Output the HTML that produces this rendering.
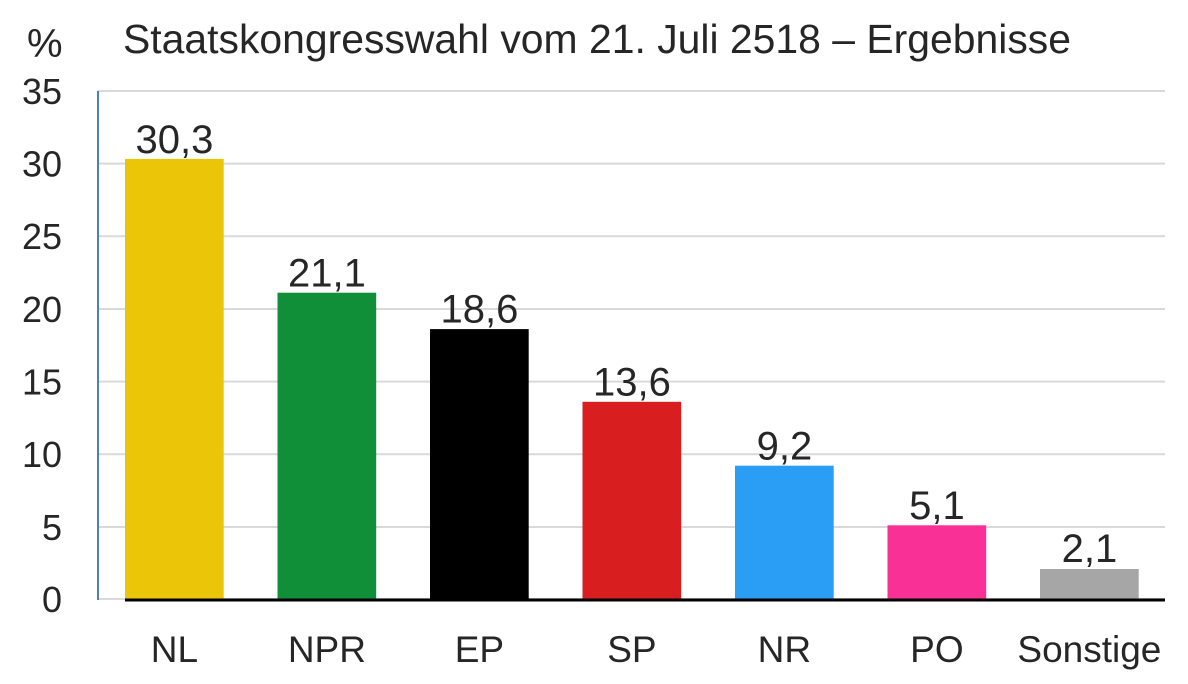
<!DOCTYPE html>
<html><head><meta charset="utf-8"><style>
html,body{margin:0;padding:0;background:#fff;}
svg{display:block;}
text{font-family:"Liberation Sans",Arial,sans-serif;fill:#262626;}
</style></head><body>
<svg width="1188" height="684" viewBox="0 0 1188 684" xmlns="http://www.w3.org/2000/svg">
<rect width="1188" height="684" fill="#fff"/>
<!-- gridlines -->
<g stroke="#d9d9d9" stroke-width="2">
<line x1="98" y1="91" x2="1165" y2="91"/>
<line x1="98" y1="163.6" x2="1165" y2="163.6"/>
<line x1="98" y1="236.3" x2="1165" y2="236.3"/>
<line x1="98" y1="309" x2="1165" y2="309"/>
<line x1="98" y1="381.6" x2="1165" y2="381.6"/>
<line x1="98" y1="454.3" x2="1165" y2="454.3"/>
<line x1="98" y1="527" x2="1165" y2="527"/>
<line x1="98" y1="599" x2="1165" y2="599"/>
</g>
<!-- y axis -->
<line x1="98" y1="91" x2="98" y2="600" stroke="#4a7ebf" stroke-width="2"/>
<!-- bars -->
<rect x="125" y="158.9" width="98.7" height="440.6" fill="#eac508"/>
<rect x="277.5" y="292.7" width="98.7" height="306.8" fill="#118f38"/>
<rect x="430" y="329.1" width="98.7" height="270.4" fill="#000000"/>
<rect x="582.5" y="401.8" width="98.7" height="197.7" fill="#d81e1e"/>
<rect x="735" y="465.7" width="98.7" height="133.8" fill="#2a9df4"/>
<rect x="887.5" y="525.3" width="98.7" height="74.2" fill="#f93196"/>
<rect x="1040" y="569" width="98.7" height="30.5" fill="#a6a6a6"/>
<!-- baseline -->
<line x1="125" y1="600" x2="1165" y2="600" stroke="#000" stroke-width="3"/>
<!-- tick labels -->
<g font-size="36" text-anchor="end">
<text x="62" y="103.8">35</text>
<text x="62" y="176.4">30</text>
<text x="62" y="249.1">25</text>
<text x="62" y="321.8">20</text>
<text x="62" y="394.4">15</text>
<text x="62" y="467.1">10</text>
<text x="62" y="539.8">5</text>
<text x="62" y="612">0</text>
</g>
<text x="27" y="57" font-size="40">%</text>
<text x="123" y="53" font-size="41" textLength="948" lengthAdjust="spacingAndGlyphs">Staatskongresswahl vom 21. Juli 2518 – Ergebnisse</text>
<!-- value labels -->
<g font-size="40" text-anchor="middle">
<text x="174.4" y="153">30,3</text>
<text x="326.9" y="286.5">21,1</text>
<text x="479.4" y="322.5">18,6</text>
<text x="631.9" y="395.5">13,6</text>
<text x="784.4" y="459.5">9,2</text>
<text x="936.9" y="519">5,1</text>
<text x="1089.4" y="562">2,1</text>
</g>
<!-- category labels -->
<g font-size="37" text-anchor="middle">
<text x="174.4" y="662">NL</text>
<text x="326.9" y="662">NPR</text>
<text x="479.4" y="662">EP</text>
<text x="631.9" y="662">SP</text>
<text x="784.4" y="662">NR</text>
<text x="936.9" y="662">PO</text>
<text x="1089.4" y="662">Sonstige</text>
</g>
</svg>
</body></html>
